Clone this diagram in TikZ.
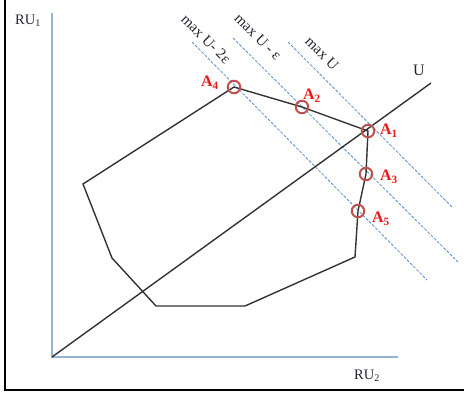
\documentclass[tikz,border=0pt]{standalone}
\usepackage{fontspec}
\setmainfont{Liberation Serif}
\definecolor{axisblue}{HTML}{95B3D7}
\definecolor{dashblue}{HTML}{5B8FCB}
\definecolor{ringred}{HTML}{C0504D}
\definecolor{labred}{RGB}{235,25,25}
\definecolor{txt}{RGB}{35,35,50}
\begin{document}
\begin{tikzpicture}[x=1pt,y=-1pt,
  frame/.style={line width=2pt,black},
  axis/.style={line width=2pt,axisblue},
  curve/.style={line width=1.4pt,black!80},
  level/.style={line width=0.8pt,dashblue,dash pattern=on 3pt off 1.5pt},
  ring/.style={circle,draw=ringred,line width=2pt,minimum size=12.5pt,inner sep=0pt},
  plab/.style={text=labred,font=\fontsize{16}{16}\selectfont\bfseries,inner sep=0pt},
  llab/.style={text=txt,font=\fontsize{15}{15}\selectfont,rotate=-45,inner sep=0pt},
  alab/.style={text=txt,font=\fontsize{14.5}{15}\selectfont,inner sep=0pt}]
\useasboundingbox (0,0) rectangle (464,394);
% frame
\draw[frame] (5,0) -- (5,389.5) -- (464,389.5);
% axes
\coordinate (O) at (52,357);
\coordinate (ytop) at (52,13);
\coordinate (xend) at (398,357);
\draw[axis] (ytop) -- (O) -- (xend);
\node[alab] (ru1) at (28,21) {RU\textsubscript{1}};
\node[alab] (ru2) at (367,376) {RU\textsubscript{2}};
% polygon vertices
\coordinate (P1) at (83,184);
\coordinate (P2) at (112,258);
\coordinate (P3) at (156,306);
\coordinate (P4) at (245,306);
\coordinate (P5) at (355,257);
\coordinate (c5) at (358,211);
\coordinate (c3) at (366,174);
\coordinate (c1) at (368,131);
\coordinate (c2) at (302,107);
\coordinate (c4) at (234,87);
% level lines
\coordinate (L0s) at (288,42);  \coordinate (L0e) at (453,208);
\coordinate (L1s) at (233,38);  \coordinate (L1e) at (458,262);
\coordinate (L2s) at (192,42);  \coordinate (L2e) at (427,280);
\draw[level] (L0s) -- (L0e);
\draw[level] (L1s) -- (L1e);
\draw[level] (L2s) -- (L2e);
\node[llab] (t0) at (322,53) {max U};
\node[llab] (t1) at (258,37) {max U - ε};
\node[llab] (t2) at (206,39) {max U- 2ε};
% U ray
\coordinate (Uend) at (431,83);
\draw[curve] (O) -- (Uend);
\node[alab,font=\fontsize{16}{16}\selectfont] (ulab) at (419,70) {U};
% polygon
\draw[curve,line join=miter] (P1) -- (P2) -- (P3) -- (P4) -- (P5) -- (c5) -- (c3) -- (c1) -- (c2) -- (c4) -- cycle;
% rings
\node[ring] (A1) at (c1) {};
\node[ring] (A2) at (c2) {};
\node[ring] (A3) at (c3) {};
\node[ring] (A4) at (c4) {};
\node[ring] (A5) at (c5) {};
\node[plab] (a1) at (389,131) {A\textsubscript{1}};
\node[plab] (a2) at (312,96) {A\textsubscript{2}};
\node[plab] (a3) at (389,177) {A\textsubscript{3}};
\node[plab] (a4) at (210,83) {A\textsubscript{4}};
\node[plab] (a5) at (381,219) {A\textsubscript{5}};
\end{tikzpicture}
\end{document}
